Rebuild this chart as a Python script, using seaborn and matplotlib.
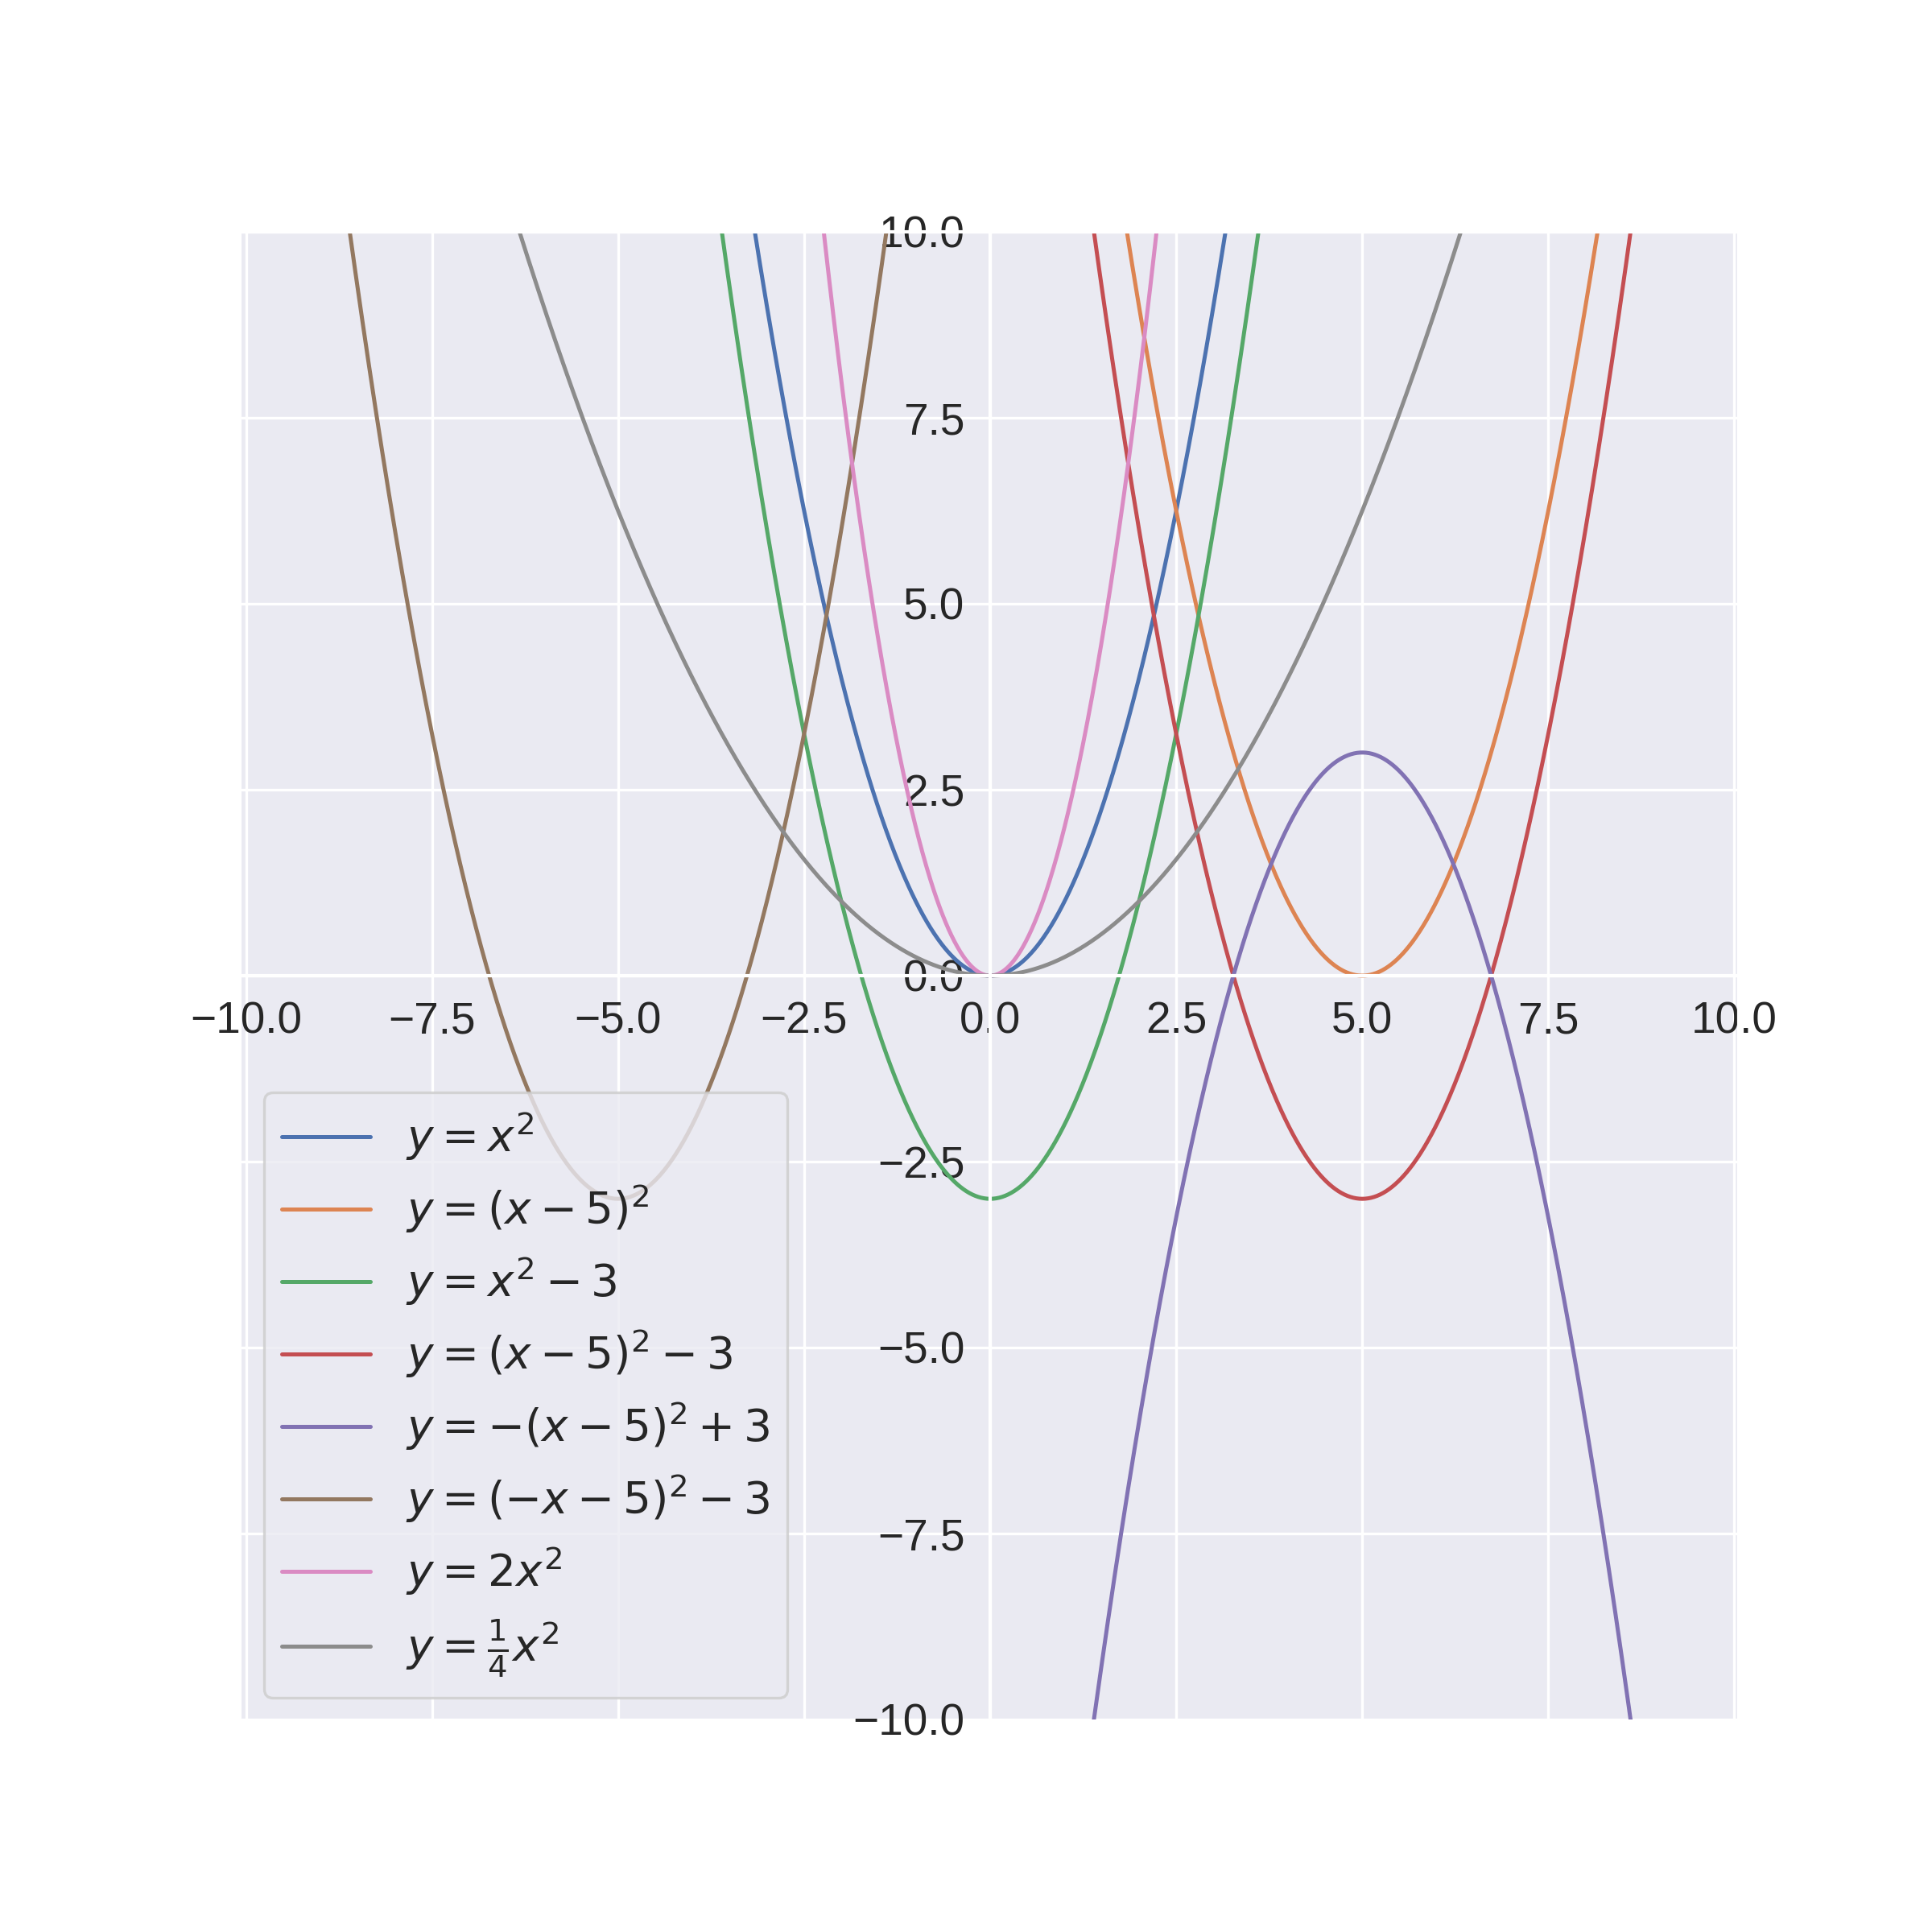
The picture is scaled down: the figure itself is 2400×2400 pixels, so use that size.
import numpy as np
import matplotlib
matplotlib.use("Agg")
import matplotlib.pyplot as plt
import seaborn as sns

# y = a * (x - h)^2 + k  for each curve
labels = [
    r"$y = x^2$",
    r"$y = (x - 5)^2$",
    r"$y = x^2 - 3$",
    r"$y = (x - 5)^2 - 3$",
    r"$y = -(x - 5)^2 + 3$",
    r"$y = (-x - 5)^2 - 3$",
    r"$y = 2x^2$",
    r"$y = \frac{1}{4}x^2$",
]
a_vals = [1, 1, 1, 1, -1, 1, 2, 0.25]
h_vals = [0, 5, 0, 5, 5, -5, 0, 0]
k_vals = [0, 0, -3, -3, 3, -3, 0, 0]

x_range = (-10, 10)
y_range = (-10, 10)

sns.set_theme(style="darkgrid", font_scale=1.5)
plt.rcParams["font.family"] = ["Liberation Sans", "DejaVu Sans"]

x = np.linspace(x_range[0], x_range[1], 2001)

fig, ax = plt.subplots(figsize=(10, 10))
for lab, a, h, k in zip(labels, a_vals, h_vals, k_vals):
    sns.lineplot(x=x, y=a * (x - h) ** 2 + k, ax=ax, label=lab)

# axes through the origin
ax.spines["left"].set_position("zero")
ax.spines["bottom"].set_position("zero")
ax.set_xlim(x_range[0] - 0.06, x_range[1] + 0.06)
ax.set_ylim(*y_range)
ax.legend(loc="lower left", labelspacing=0.46)

plt.savefig("out.png", dpi=240)
plt.close()
